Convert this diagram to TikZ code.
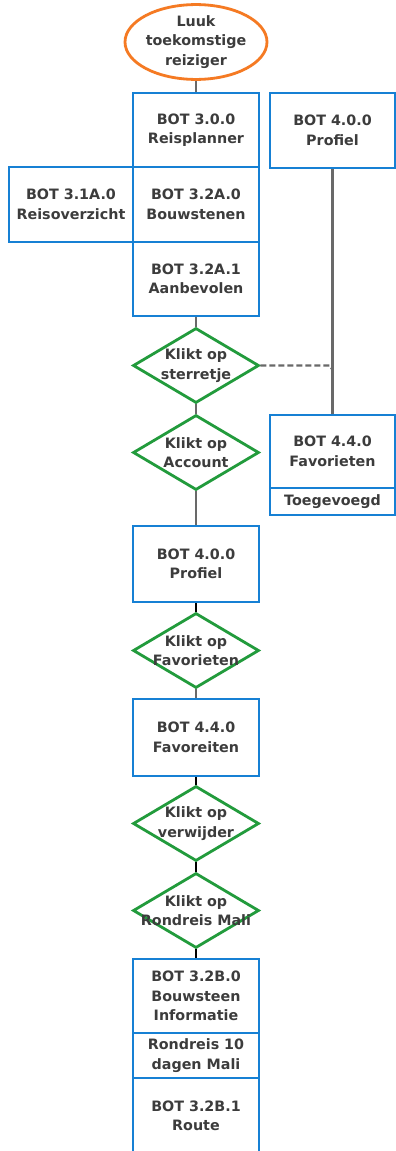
\documentclass[tikz,border=0pt]{standalone}
\usepackage{fontspec}
\setmainfont{DejaVu Sans}
\usetikzlibrary{shapes.geometric}
\definecolor{boxblue}{RGB}{22,128,212}
\definecolor{dgreen}{RGB}{34,155,60}
\definecolor{orng}{RGB}{245,122,35}
\definecolor{txt}{RGB}{60,60,60}
\definecolor{conn}{RGB}{105,105,105}
\begin{document}
\begin{tikzpicture}[x=1pt,y=-1pt,
  every node/.style={font=\fontsize{14.3}{19.5}\selectfont\bfseries, text=txt, align=center, inner sep=0pt},
  bx/.style={draw=boxblue, line width=2.8pt, rectangle, minimum width=126pt},
  dia/.style={draw=dgreen, line width=2.8pt, diamond, minimum width=126pt, minimum height=75pt},
  gline/.style={draw=conn, line width=2.4pt},
  kline/.style={draw=black, line width=2.4pt}]
\useasboundingbox (0,0) rectangle (396,1151);
\clip (0,0) rectangle (396,1151);
\fill[white] (0,0) rectangle (396,1151);

% start
\node[draw=orng, line width=2.8pt, ellipse, minimum width=124pt, minimum height=74pt] (start) at (196,42) {Luuk\\toekomstige\\reiziger};

% upper column
\node[bx, minimum height=74pt] (b300) at (196,130) {BOT 3.0.0\\Reisplanner};
\node[bx, minimum width=124pt, minimum height=75pt] (b310) at (71,204.5) {BOT 3.1A.0\\Reisoverzicht};
\node[bx, minimum height=75pt] (b320) at (196,204.5) {BOT 3.2A.0\\Bouwstenen};
\node[bx, minimum height=74pt] (b321) at (196,279) {BOT 3.2A.1\\Aanbevolen};

% right column
\node[bx, minimum width=125pt, minimum height=75pt] (b400r) at (332.5,130.5) {BOT 4.0.0\\Profiel};
\node[bx, minimum width=125pt, minimum height=73pt] (b440r) at (332.5,451.5) {BOT 4.4.0\\Favorieten};
\node[bx, minimum width=125pt, minimum height=27pt] (toeg) at (332.5,501.5) {Toegevoegd};

% diamonds
\node[dia] (d1) at (196,365.5) {};
\node (t1) at (d1) {Klikt op\\sterretje};
\node[dia] (d2) at (196,452.5) {};
\node (t2) at (d2) {Klikt op\\Account};

\node[bx, minimum height=76pt] (b400) at (196,564) {BOT 4.0.0\\Profiel};
\node[dia] (d3) at (196,650.5) {};
\node (t3) at (d3) {Klikt op\\Favorieten};
\node[bx, minimum height=77pt] (b440) at (196,737.5) {BOT 4.4.0\\Favoreiten};
\node[dia] (d4) at (196,823.5) {};
\node (t4) at (d4) {Klikt op\\verwijder};
\node[dia] (d5) at (196,910.5) {};
\node (t5) at (d5) {Klikt op\\Rondreis Mali};

\node[bx, minimum height=74pt] (b32b0) at (196,996) {BOT 3.2B.0\\Bouwsteen\\Informatie};
\node[bx, minimum height=45pt] (rond) at (196,1055.5) {Rondreis 10\\dagen Mali};
\node[bx, minimum height=76pt] (b32b1) at (196,1116) {BOT 3.2B.1\\Route};

% connectors
\draw[gline] (start.south) -- (b300.north);
\draw[gline] (b321.south) -- (d1.north);
\draw[gline] (d1.south) -- (d2.north);
\draw[gline] (d2.south) -- (b400.north);
\draw[kline] (b400.south) -- (d3.north);
\draw[gline] (d3.south) -- (b440.north);
\draw[kline] (b440.south) -- (d4.north);
\draw[kline] (d4.south) -- (d5.north);
\draw[kline] (d5.south) -- (b32b0.north);
\draw[gline] (b400r.south) -- (b440r.north);
\coordinate (dj) at (330,365.5);
\coordinate (dk) at (332,369);
\draw[gline, dashed, dash pattern=on 6pt off 3pt] (d1.east) -- (dj) -- (dk);
\end{tikzpicture}
\end{document}
